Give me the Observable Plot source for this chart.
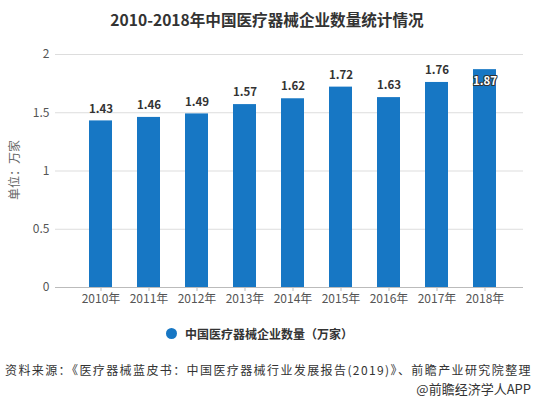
<!DOCTYPE html>
<html><head><meta charset="utf-8">
<script src="https://cdn.jsdelivr.net/npm/d3@7"></script>
<script src="https://cdn.jsdelivr.net/npm/@observablehq/plot@0.6"></script>
<style>
body{margin:0;width:534px;height:399px;background:#fff;font-family:"Noto Sans CJK SC","Noto Sans",sans-serif;position:relative;overflow:hidden}
.abs{position:absolute;white-space:nowrap}
#title{top:8px;left:0;width:534px;text-align:center;font-size:15.6px;font-weight:bold;color:#333}
#chart{top:40px;left:0}
#ylab{left:13px;top:170px;transform:translate(-50%,-50%) rotate(-90deg);font-size:12px;color:#666}
#legend{top:325px;left:166px;font-size:12px;font-weight:bold;color:#333;display:flex;align-items:center}
#legend span.dot{display:inline-block;width:11px;height:11px;border-radius:50%;background:#1777c4;margin-right:8px}
#source{top:361px;left:5px;font-size:12px;color:#333;letter-spacing:1.4px}
#app{top:379px;right:3px;font-size:13px;color:#333}
</style></head>
<body>
<div id="title" class="abs">2010-2018年中国医疗器械企业数量统计情况</div>
<div id="chart" class="abs"></div>
<div id="ylab" class="abs">单位：万家</div>
<div id="legend" class="abs"><span class="dot"></span>中国医疗器械企业数量（万家）</div>
<div id="source" class="abs">资料来源：《医疗器械蓝皮书：中国医疗器械行业发展报告(2019)》、前瞻产业研究院整理</div>
<div id="app" class="abs">@前瞻经济学人APP</div>
<script>
const years = ["2010年","2011年","2012年","2013年","2014年","2015年","2016年","2017年","2018年"];
const values = [1.43,1.46,1.49,1.57,1.62,1.72,1.63,1.76,1.87];
const yTicks = [0,0.5,1,1.5,2];
const data = years.map((y,i)=>({year:y,value:values[i]}));
const outside = data.slice(0,8);
const inside = data.slice(8);
const chart = Plot.plot({
  width:534, height:270,
  marginTop:14, marginBottom:23, marginLeft:62, marginRight:12,
  style:{fontFamily:'"Noto Sans CJK SC","Noto Sans",sans-serif', fontSize:"12px", color:"#555", background:"transparent"},
  x:{domain:years, padding:0.53, label:null},
  y:{domain:[0,2], label:null},
  marks:[
    Plot.ruleY(yTicks.filter(d=>d>0), {stroke:"#ddd", strokeWidth:1, insetLeft:-7, insetRight:-1}),
    Plot.barY(data,{x:"year", y:"value", fill:"#1777c4"}),
    Plot.ruleY([0],{stroke:"#bbb", insetLeft:-7, insetRight:-1}),
    Plot.axisY({ticks:yTicks, tickSize:0, tickPadding:13, tickFormat:d=>String(d), fill:"#555", fontSize:12}),
    Plot.axisX({tickSize:4, tickPadding:3, stroke:"#bbb", fill:"#555", fontSize:12}),
    Plot.text(outside,{x:"year", y:"value", text:d=>d.value.toFixed(2), dy:-12, fontWeight:"bold", fontSize:11.5, fill:"#333"}),
    Plot.text(inside,{x:"year", y:"value", text:d=>d.value.toFixed(2), dy:12, fontWeight:"bold", fontSize:11.5, fill:"#fff", stroke:"#333", strokeWidth:2, paintOrder:"stroke"})
  ]
});
document.getElementById("chart").appendChild(chart);
</script>
</body></html>
